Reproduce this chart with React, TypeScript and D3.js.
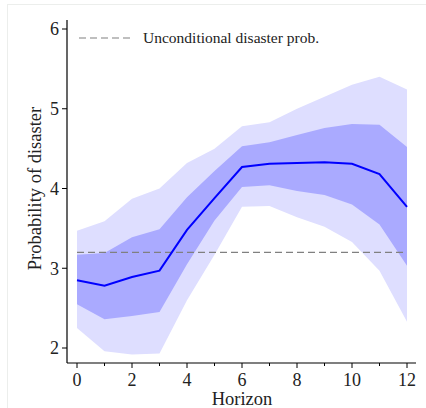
import React from "react";
import * as d3 from "d3";

// values
const horizons = [0, 1, 2, 3, 4, 5, 6, 7, 8, 9, 10, 11, 12];
const median = [2.85, 2.78, 2.89, 2.97, 3.48, 3.88, 4.27, 4.31, 4.32, 4.33, 4.31, 4.18, 3.77];
const innerUpper = [3.17, 3.19, 3.39, 3.49, 3.89, 4.22, 4.53, 4.58, 4.67, 4.76, 4.81, 4.8, 4.52];
const innerLower = [2.55, 2.36, 2.4, 2.45, 3.05, 3.6, 4.02, 4.04, 3.97, 3.92, 3.8, 3.55, 3.03];
const outerUpper = [3.47, 3.59, 3.87, 4.0, 4.32, 4.5, 4.78, 4.83, 5.0, 5.15, 5.3, 5.4, 5.24];
const outerLower = [2.25, 1.96, 1.92, 1.93, 2.6, 3.17, 3.77, 3.78, 3.64, 3.52, 3.33, 2.97, 2.33];
const unconditional = 3.2;
const xTicks = [0, 2, 4, 6, 8, 10, 12];
const xMinorTicks = [1, 3, 5, 7, 9, 11];
const yTicks = [2, 3, 4, 5, 6];

const W = 426;
const H = 408;
const font = "'Liberation Serif', 'DejaVu Serif', serif";

const App = () => {
  const x = d3.scaleLinear().domain([0, 12]).range([77, 407]);
  const y = d3.scaleLinear().domain([2, 6]).range([348, 29]);
  const axisX = 67;
  const axisY = 363;

  const band = (lo: number[], hi: number[]) =>
    d3
      .area<number>()
      .x((d) => x(d))
      .y0((d, i) => y(lo[i]))
      .y1((d, i) => y(hi[i]))(horizons) || "";

  const line =
    d3
      .line<number>()
      .x((d) => x(d))
      .y((d, i) => y(median[i]))(horizons) || "";

  return (
    <svg
      width={W}
      height={H}
      style={{ position: "absolute", left: 0, top: 0, background: "#fff" }}
      fontFamily={font}
    >
      {/* faint frame */}
      <rect x={7.5} y={4.5} width={W} height={H} fill="none" stroke="#eceeec" />

      <path d={band(outerLower, outerUpper)} fill="#dedeff" />
      <path d={band(innerLower, innerUpper)} fill="#aaaaff" />
      <line
        x1={x(0)}
        x2={x(12)}
        y1={y(unconditional)}
        y2={y(unconditional)}
        stroke="#808080"
        strokeWidth={1.2}
        strokeDasharray="7,4"
      />
      <path d={line} fill="none" stroke="#0000ff" strokeWidth={2} />

      {/* y axis */}
      <line x1={axisX} x2={axisX} y1={20} y2={axisY} stroke="#000" strokeWidth={1.2} />
      {yTicks.map((t) => (
        <g key={t}>
          <line x1={axisX - 5} x2={axisX} y1={y(t)} y2={y(t)} stroke="#000" />
          <text x={axisX - 8} y={y(t)} dy="0.35em" textAnchor="end" fontSize={18} fill="#222">
            {t}
          </text>
        </g>
      ))}

      {/* x axis */}
      <line x1={axisX} x2={416} y1={axisY} y2={axisY} stroke="#000" strokeWidth={1.2} />
      {xTicks.map((t) => (
        <g key={t}>
          <line x1={x(t)} x2={x(t)} y1={axisY} y2={axisY + 5} stroke="#000" />
          <text x={x(t)} y={axisY + 23} textAnchor="middle" fontSize={18} fill="#222">
            {t}
          </text>
        </g>
      ))}
      {xMinorTicks.map((t) => (
        <line key={t} x1={x(t)} x2={x(t)} y1={axisY} y2={axisY + 3} stroke="#000" />
      ))}

      <text x={x(6)} y={405} textAnchor="middle" fontSize={18.5} fill="#222">
        Horizon
      </text>
      <text
        transform={`translate(41,${y(4)}) rotate(-90)`}
        textAnchor="middle"
        fontSize={18.5}
        fill="#222"
      >
        Probability of disaster
      </text>

      {/* legend */}
      <line x1={79} x2={134} y1={38} y2={38} stroke="#808080" strokeWidth={1.2} strokeDasharray="7,4" />
      <text x={143} y={43} fontSize={15.5} fill="#222">
        Unconditional disaster prob.
      </text>
    </svg>
  );
};

export default App;
